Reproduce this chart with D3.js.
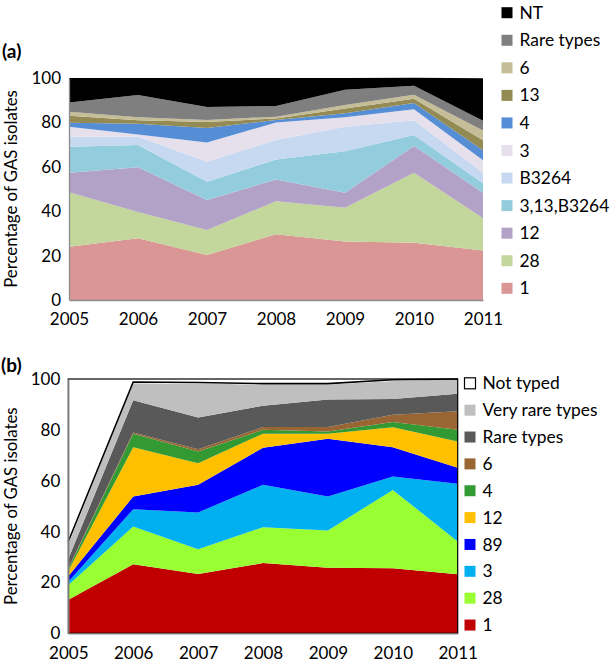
<!DOCTYPE html>
<html><head><meta charset="utf-8">
<script src="https://cdn.jsdelivr.net/npm/d3@7"></script>
<style>
html,body{margin:0;padding:0;background:#fff;}
svg{display:block;font-family:Lato,"Open Sans",sans-serif;}
</style></head>
<body>
<svg id="c" width="611" height="664"></svg>
<script>
// ---------- DATA ----------
const years = [2005, 2006, 2007, 2008, 2009, 2010, 2011];
const yTicks = [0, 20, 40, 60, 80, 100];

// Panel (a) series (percentage of GAS isolates), bottom to top
const aKeys = ["1", "28", "12", "3,13,B3264", "B3264", "3", "4", "13", "6", "Rare types", "NT"];
const a_1        = [24.0, 27.8, 20.3, 29.6, 26.3, 25.8, 22.3];
const a_28       = [24.5, 11.8, 11.2, 14.9, 15.3, 31.5, 14.5];
const a_12       = [8.8, 20.2, 13.5, 9.8, 6.7, 12.1, 11.5];
const a_3_13_B   = [11.7, 10.0, 8.3, 9.0, 18.7, 4.9, 4.3];
const a_B3264    = [4.5, 3.8, 9.0, 8.8, 11.0, 6.7, 4.7];
const a_3        = [4.5, 1.0, 8.7, 7.8, 4.3, 4.9, 5.6];
const a_4        = [1.8, 4.8, 6.5, 1.2, 1.8, 2.8, 4.6];
const a_13       = [3.2, 1.6, 2.7, 0.7, 2.2, 2.0, 4.5];
const a_6        = [1.8, 1.3, 0.9, 0.8, 1.5, 1.7, 4.4];
const a_rare     = [4.2, 10.0, 5.8, 4.8, 6.9, 4.1, 4.3];
const a_NT       = [11.0, 7.7, 13.1, 12.6, 5.3, 3.6, 19.2];
const aSeries = [a_1, a_28, a_12, a_3_13_B, a_B3264, a_3, a_4, a_13, a_6, a_rare, a_NT];
const aColors = ["#D99694", "#C3D69B", "#B3A2C7", "#93CDDD", "#C6D9F1", "#E6E0EC", "#558ED5", "#948A54", "#C4BD97", "#7F7F7F", "#000000"];

// Panel (b) series, bottom to top
const bKeys = ["1", "28", "3", "89", "12", "4", "6", "Rare types", "Very rare types", "Not typed"];
const b_1        = [13.2, 27.2, 23.3, 27.6, 25.8, 25.6, 23.2];
const b_28       = [5.8, 14.8, 9.8, 14.1, 14.6, 30.8, 12.9];
const b_3        = [1.3, 6.8, 14.4, 16.7, 13.4, 5.3, 22.7];
const b_89       = [2.1, 5.0, 10.9, 14.6, 22.7, 11.5, 6.3];
const b_12       = [2.1, 19.4, 8.5, 5.5, 2.0, 7.8, 10.3];
const b_4        = [0.8, 5.3, 4.6, 1.5, 0.9, 2.1, 4.6];
const b_6        = [0.3, 0.5, 0.9, 1.1, 1.7, 2.8, 7.3];
const b_rare     = [3.6, 12.6, 12.5, 8.4, 10.8, 6.2, 6.9];
const b_veryrare = [5.8, 6.7, 13.3, 8.3, 5.9, 7.1, 5.8];
const b_NT       = [1.1, 0.5, 0.4, 0.4, 0.4, 0.5, 0.0];
const bSeries = [b_1, b_28, b_3, b_89, b_12, b_4, b_6, b_rare, b_veryrare, b_NT];
const bColors = ["#C00000", "#99FF33", "#00B0F0", "#0000FF", "#FFC000", "#339933", "#996633", "#595959", "#BFBFBF", "#FFFFFF"];

// ---------- DRAW ----------
const svg = d3.select("#c");
const FS = 17;

function panel(opt) {
  const {keys, series, colors, x0, x1, y0, y1, label, labelPos, titleX, xPad, legX, legY0, legStep, border} = opt;
  const rows = years.map((yr, i) => {
    const r = {year: yr};
    keys.forEach((k, j) => r[k] = series[j][i]);
    return r;
  });
  const stack = d3.stack().keys(keys)(rows);
  const x = d3.scaleLinear().domain([years[0], years[years.length - 1]]).range([x0, x1]);
  const y = d3.scaleLinear().domain([0, 100]).range([y0, y1]);
  const area = d3.area().x(d => x(d.data.year)).y0(d => y(d[0])).y1(d => y(d[1]));
  const g = svg.append("g");

  g.selectAll("path.layer").data(stack).join("path")
    .attr("class", "layer")
    .attr("d", area)
    .attr("fill", (d, i) => colors[i]);

  if (border) {
    g.append("rect").attr("x", x0).attr("y", y1).attr("width", x1 - x0).attr("height", y0 - y1)
      .attr("fill", "none").attr("stroke", "#000").attr("stroke-width", 1.2);
    const top = stack[stack.length - 1];
    g.append("path")
      .attr("d", d3.line().x(d => x(d.data.year)).y(d => y(d[1]))(top))
      .attr("fill", "none").attr("stroke", "#000").attr("stroke-width", 1.6);
  }

  const ax = g.append("g").attr("transform", `translate(${x0},0)`)
    .call(d3.axisLeft(y).tickValues(yTicks).tickSize(0).tickPadding(8));
  const bx = g.append("g").attr("transform", `translate(0,${y0})`)
    .call(d3.axisBottom(x).tickValues(years).tickFormat(d3.format("d")).tickSize(0).tickPadding(xPad));
  [ax, bx].forEach(a => {
    a.select(".domain").attr("stroke", "#8c8c8c").attr("stroke-width", 1.3);
    a.selectAll("text").attr("font-size", FS).attr("fill", "#000").attr("font-family", "Lato, sans-serif");
  });

  g.append("text")
    .attr("transform", `translate(${titleX},${(y0 + y1) / 2}) rotate(-90)`)
    .attr("text-anchor", "middle").attr("font-size", 16.8).text("Percentage of GAS isolates");

  g.append("text").attr("x", labelPos[0]).attr("y", labelPos[1])
    .attr("font-size", 19).attr("font-weight", "bold").text(label);

  const legendKeys = keys.slice().reverse();
  const legendColors = colors.slice().reverse();
  const lg = g.append("g");
  legendKeys.forEach((k, i) => {
    const cy = legY0 + i * legStep;
    lg.append("rect").attr("x", legX).attr("y", cy - 5.5).attr("width", 11).attr("height", 11)
      .attr("fill", legendColors[i])
      .attr("stroke", legendColors[i] === "#FFFFFF" ? "#000" : "none").attr("stroke-width", 1.2);
    lg.append("text").attr("x", legX + 18).attr("y", cy).attr("dy", "0.35em")
      .attr("font-size", 17.4).text(k);
  });
}

panel({keys: aKeys, series: aSeries, colors: aColors,
  x0: 69, x1: 483, y0: 300, y1: 78, label: "(a)", labelPos: [2, 58], titleX: 17, xPad: 13,
  legX: 501.5, legY0: 12.7, legStep: 27.56, border: false});

panel({keys: bKeys, series: bSeries, colors: bColors,
  x0: 68.3, x1: 457.7, y0: 633.3, y1: 379, label: "(b)", labelPos: [1, 372], titleX: 17, xPad: 13.5,
  legX: 464.5, legY0: 383.3, legStep: 26.86, border: true});
</script>
</body></html>
